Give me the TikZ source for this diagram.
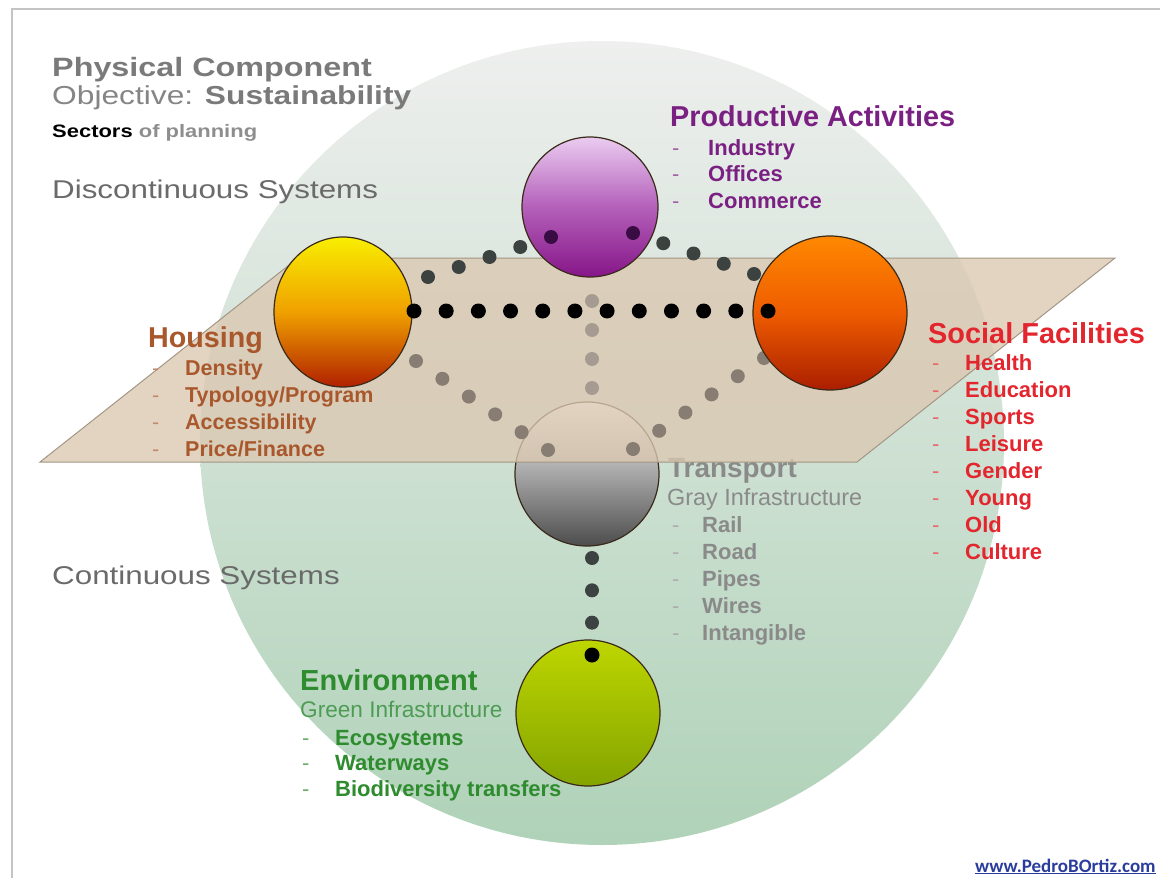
\documentclass[tikz,border=0pt]{standalone}
\usepackage{fontspec}
\setmainfont{Liberation Sans}
\newfontfamily\widesans{Liberation Sans}[FakeStretch=1.22]
\newfontfamily\urlfont{Carlito}
\usetikzlibrary{shapes.geometric,calc}

\newcommand{\fsz}[1]{\fontsize{#1}{#1}\selectfont}

\definecolor{framegray}{HTML}{C4C4C4}
\definecolor{circtop}{HTML}{EEEFEE}
\definecolor{circbot}{HTML}{AFD2B8}
\definecolor{planetan}{HTML}{DBC8B1}
\definecolor{planeedge}{HTML}{A39684}
\definecolor{sphereline}{HTML}{3A2A1A}
\definecolor{dotdark}{HTML}{3C423F}
\definecolor{dotlow}{HTML}{877D72}
\definecolor{dotmid}{HTML}{A59B90}
\definecolor{dotpurple}{HTML}{3A0C44}
\definecolor{titlegray}{HTML}{7A7A7A}
\definecolor{objgray}{HTML}{858585}
\definecolor{subgray}{HTML}{8E8E8E}
\definecolor{sysgray}{HTML}{6A6A6A}
\definecolor{prodpurple}{HTML}{7A2082}
\definecolor{housebrown}{HTML}{A8582C}
\definecolor{socialred}{HTML}{E3262E}
\definecolor{transgray}{HTML}{8A8A8A}
\definecolor{envgreen}{HTML}{2E8C2E}
\definecolor{envlight}{HTML}{4E9C54}
\definecolor{urlblue}{HTML}{2B3D9C}

\begin{document}
\begin{tikzpicture}[x=1pt, y=-1pt,
    sphere/.style={ellipse, draw=sphereline, line width=1.2pt, inner sep=0pt},
    lbl/.style={anchor=base west, inner sep=0pt}]
    \useasboundingbox (0,0) rectangle (1160,878);

    % Frame
    \draw[framegray, line width=2pt] (1160,9) -- (12,9) -- (12,878);

    % Big circle
    \shade[top color=circtop, bottom color=circbot] (602,443) circle (402pt);

    % Headings top left
    \node[lbl, titlegray, font=\widesans\bfseries\fsz{26.5}] (title) at (52,76) {Physical Component};
    \node[lbl, font=\widesans\fsz{26}] (objective) at (52,104)
        {\textcolor{objgray}{Objective:} \textcolor{titlegray}{\bfseries Sustainability}};
    \node[lbl, black, font=\widesans\bfseries\fsz{18}] (sectors) at (52,137)
        {Sectors \textcolor{subgray}{of planning}};
    \node[lbl, sysgray, font=\widesans\fsz{25.7}] (discont) at (52,198) {Discontinuous Systems};
    \node[lbl, sysgray, font=\widesans\fsz{25.7}] (contin) at (52,584) {Continuous Systems};

    % Transport sphere (under the plane)
    \node[sphere, minimum width=144pt, minimum height=144pt,
        top color=white, bottom color=black!70, middle color=black!35] (transport) at (587,474) {};

    % Transport label
    \node[lbl, transgray, font=\bfseries\fsz{27.9}] (trans-head) at (668,477) {Transport};

    % Plane
    \filldraw[fill=planetan, fill opacity=0.78, draw=planeedge, line width=1pt]
        (40,462) -- (857,462) -- (1115,258) -- (298,258) -- cycle;

    % Link end points
    \coordinate (hs-a) at (414,311);  \coordinate (hs-b) at (768,311);
    \coordinate (hu-a) at (428,277);  \coordinate (hu-b) at (551,237);
    \coordinate (su-a) at (633,233);  \coordinate (su-b) at (754,274);
    \coordinate (hl-a) at (416,361);  \coordinate (hl-b) at (548,450);
    \coordinate (sl-a) at (633,449);  \coordinate (sl-b) at (764,358);
    \coordinate (vc-a) at (592,301);  \coordinate (vc-b) at (592,388);
    \coordinate (tv-a) at (592,558);  \coordinate (tv-b) at (592,655);

    % Gray links
    \foreach \t in {0,...,5} {
        \fill[dotlow] ($(hl-a)!\t/5!(hl-b)$) circle (7pt);
        \fill[dotlow] ($(sl-a)!\t/5!(sl-b)$) circle (7pt);
    }
    \foreach \t in {0,...,3} {
        \fill[dotmid] ($(vc-a)!\t/3!(vc-b)$) circle (7pt);
    }
    \foreach \t in {0,...,3} {
        \fill[dotdark] ($(hu-a)!\t/4!(hu-b)$) circle (7pt);
    }
    \foreach \t in {1,...,4} {
        \fill[dotdark] ($(su-a)!\t/4!(su-b)$) circle (7pt);
    }
    \foreach \t in {0,...,2} {
        \fill[dotdark] ($(tv-a)!\t/3!(tv-b)$) circle (7pt);
    }

    % Spheres
    \node[sphere, minimum width=138pt, minimum height=150pt,
        top color={rgb,255:red,248;green,238;blue,0}, bottom color={rgb,255:red,176;green,32;blue,0},
        middle color={rgb,255:red,240;green,160;blue,0}] (housing) at (343,312) {};
    \node[sphere, minimum width=154pt, minimum height=154pt,
        top color={rgb,255:red,255;green,136;blue,0}, bottom color={rgb,255:red,170;green,30;blue,0},
        middle color={rgb,255:red,238;green,92;blue,0}] (social) at (830,313) {};
    \node[sphere, minimum width=136pt, minimum height=140pt,
        top color={rgb,255:red,234;green,204;blue,240}, bottom color={rgb,255:red,134;green,22;blue,136},
        middle color={rgb,255:red,180;green,96;blue,186}] (productive) at (590,207) {};
    \node[sphere, minimum width=144pt, minimum height=146pt,
        top color={rgb,255:red,190;green,214;blue,0}, bottom color={rgb,255:red,132;green,164;blue,0}] (environment) at (588,713) {};

    % Black links
    \foreach \t in {0,...,11} {
        \fill[black] ($(hs-a)!\t/11!(hs-b)$) circle (7.5pt);
    }
    \fill[dotpurple] (hu-b) circle (7pt);
    \fill[dotpurple] (su-a) circle (7pt);
    \fill[black] (tv-b) circle (7.5pt);

    % Productive Activities
    \node[lbl, prodpurple, font=\bfseries\fsz{28.8}] (prod-head) at (670,126) {Productive Activities};
    \foreach \txt [count=\k] in {Industry, Offices, Commerce} {
        \node[lbl, prodpurple!70, font=\fsz{22}] (prod-dash-\k) at (672,{155+26.5*(\k-1)}) {-};
        \node[lbl, prodpurple, font=\bfseries\fsz{22}] (prod-\k) at (708,{155+26.5*(\k-1)}) {\txt};
    }

    % Housing
    \node[lbl, housebrown, font=\bfseries\fsz{28.7}] (house-head) at (148,347) {Housing};
    \foreach \txt [count=\k] in {Density, Typology/Program, Accessibility, Price/Finance} {
        \node[lbl, housebrown!70, font=\fsz{21.5}] (house-dash-\k) at (152,{375+27.3*(\k-1)}) {-};
        \node[lbl, housebrown, font=\bfseries\fsz{21.5}] (house-\k) at (185,{375+27.3*(\k-1)}) {\txt};
    }

    % Social Facilities
    \node[lbl, socialred, font=\bfseries\fsz{28.9}] (social-head) at (928,343) {Social Facilities};
    \foreach \txt [count=\k] in {Health, Education, Sports, Leisure, Gender, Young, Old, Culture} {
        \node[lbl, socialred!70, font=\fsz{22}] (social-dash-\k) at (932,{370+27.1*(\k-1)}) {-};
        \node[lbl, socialred, font=\bfseries\fsz{22}] (social-\k) at (965,{370+27.1*(\k-1)}) {\txt};
    }

    % Transport list
    \node[lbl, transgray, font=\fsz{23.4}] (trans-sub) at (667,505) {Gray Infrastructure};
    \foreach \txt [count=\k] in {Rail, Road, Pipes, Wires, Intangible} {
        \node[lbl, transgray!70, font=\fsz{22}] (trans-dash-\k) at (672,{532+27*(\k-1)}) {-};
        \node[lbl, transgray, font=\bfseries\fsz{22}] (trans-\k) at (702,{532+27*(\k-1)}) {\txt};
    }

    % Environment
    \node[lbl, envgreen, font=\bfseries\fsz{29}] (env-head) at (300,690) {Environment};
    \node[lbl, envlight, font=\fsz{22.6}] (env-sub) at (300,717) {Green Infrastructure};
    \foreach \txt [count=\k] in {Ecosystems, Waterways, Biodiversity transfers} {
        \node[lbl, envgreen!70, font=\fsz{22}] (env-dash-\k) at (302,{745+25.7*(\k-1)}) {-};
        \node[lbl, envgreen, font=\bfseries\fsz{22}] (env-\k) at (335,{745+25.7*(\k-1)}) {\txt};
    }

    % Link
    \node[lbl, urlblue, font=\urlfont\bfseries\fsz{19}] (url) at (975,872) {\underline{www.PedroBOrtiz.com}};
\end{tikzpicture}
\end{document}
